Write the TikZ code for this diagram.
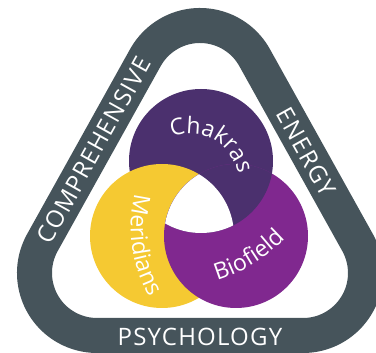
\documentclass[tikz,border=0pt]{standalone}
\usepackage{fontspec}
\setmainfont{Open Sans}
\newfontfamily\bandfont[LetterSpace=5]{Open Sans}
\usetikzlibrary{decorations.text}
\definecolor{bandgray}{RGB}{70,84,91}
\definecolor{chakpurple}{RGB}{75,48,110}
\definecolor{biopurple}{RGB}{128,40,143}
\definecolor{meryellow}{RGB}{245,201,50}
\tikzset{
  band/.style={draw=bandgray, line width=35pt},
  bandtext/.style={text=white, font=\bandfont\fontsize{24}{24}\selectfont, inner sep=0pt},
  arctext/.style={decorate, decoration={text along path, text align=center,
      text={|\color{white}\fontsize{23}{23}\selectfont|#1}}}
}

\begin{document}
\begin{tikzpicture}[x=1pt, y=1pt]
        \useasboundingbox (0,0) rectangle (376,353);
        % Define the circle centres
        \coordinate (chak) at (201,192);
        \coordinate (mer) at (162,117);
        \coordinate (bio) at (236,117);
        \def\rad{72}
        % Band round the rings
        \draw[band] (97,17.5) -- (303,17.5) arc[start angle=-90, end angle=29.1, radius=62.5]
          -- ++(-103,185) arc[start angle=29.1, end angle=150.9, radius=62.5]
          -- ++(-103,-185) arc[start angle=150.9, end angle=270, radius=62.5] -- cycle;
        \node[bandtext] (psy) at (200,16.5) {PSYCHOLOGY};
        \node[bandtext, rotate=60.9] (comp) at (93.9,202.9) {COMPREHENSIVE};
        \node[bandtext, rotate=-60.9] (ener) at (306.1,201) {ENERGY};
        % Define the rings
        \fill[chakpurple] (chak) circle[radius=\rad];
        \fill[meryellow] (mer) circle[radius=\rad];
        \fill[biopurple] (bio) circle[radius=\rad];
        \begin{scope}
          \clip (bio) circle[radius=\rad];
          \fill[chakpurple] (chak) circle[radius=\rad];
        \end{scope}
        \begin{scope}
          \clip (bio) circle[radius=\rad];
          \clip (chak) circle[radius=\rad];
          \fill[white] (mer) circle[radius=\rad];
        \end{scope}
        % Ring labels
        \path[arctext=Chakras] (190,170) ++(150:49) arc[start angle=150, end angle=-28, radius=49];
        \path[arctext=Meridians] (267.7,125.3) ++(156:137) arc[start angle=156, end angle=220, radius=137];
        \path[arctext=Biofield] (171.9,223.1) ++(-92:157) arc[start angle=-92, end angle=-25, radius=157];
\end{tikzpicture}
\end{document}
